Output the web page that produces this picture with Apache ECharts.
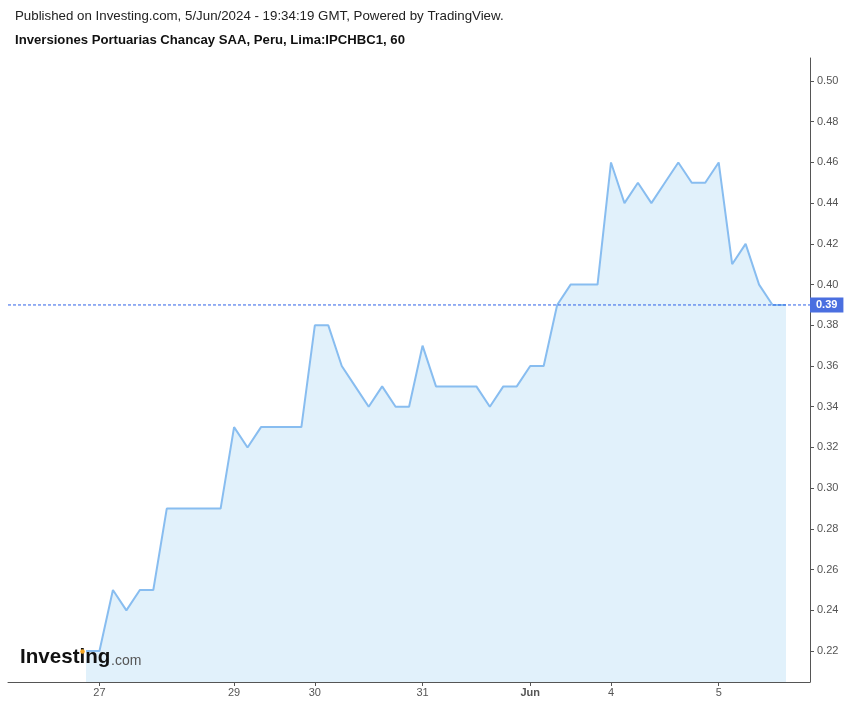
<!DOCTYPE html>
<html>
<head>
<meta charset="utf-8">
<script src="https://cdn.jsdelivr.net/npm/echarts@6/dist/echarts.min.js"></script>
<style>
html,body{margin:0;padding:0;background:#fff;}
#chart{width:850px;height:706px;}
</style>
</head>
<body>
<div id="chart"></div>
<script>
// Hourly closes, one point per bar (index 0 .. 52)
const values = [
  0.22, 0.22, 0.25, 0.24, 0.25, 0.25, 0.29, 0.29, 0.29, 0.29,
  0.29, 0.33, 0.32, 0.33, 0.33, 0.33, 0.33, 0.38, 0.38, 0.36,
  0.35, 0.34, 0.35, 0.34, 0.34, 0.37, 0.35, 0.35, 0.35, 0.35,
  0.34, 0.35, 0.35, 0.36, 0.36, 0.39, 0.40, 0.40, 0.40, 0.46,
  0.44, 0.45, 0.44, 0.45, 0.46, 0.45, 0.45, 0.46, 0.41, 0.42,
  0.40, 0.39, 0.39
];
// x-axis tick positions (bar index) and their labels
const tickIndex = [1, 11, 17, 25, 33, 39, 47];
const tickText  = ['27', '29', '30', '31', 'Jun', '4', '5'];
// y-axis tick labels
const yTicks = [0.22, 0.24, 0.26, 0.28, 0.30, 0.32, 0.34, 0.36, 0.38, 0.40, 0.42, 0.44, 0.46, 0.48, 0.50];
const lastValue = values[values.length - 1];

const X_MIN = -5.794, X_MAX = 53.783;
const seriesData = values.map((v, i) => [i, v]);
const lastLineData = [[X_MIN, lastValue], [X_MAX, lastValue]];

const chart = echarts.init(document.getElementById('chart'), null, {renderer: 'canvas'});
const FONT = '"Liberation Sans", Arial, sans-serif';

chart.setOption({
  animation: false,
  backgroundColor: '#ffffff',
  grid: {left: 8, right: 40, top: 58, bottom: 24, containLabel: false},
  graphic: [
    {type: 'text', left: 15, top: 10, style: {text: 'Published on Investing.com, 5/Jun/2024 - 19:34:19 GMT, Powered by TradingView.', font: '13.3px ' + FONT, fill: '#222'}},
    {type: 'text', left: 15, top: 34, style: {text: 'Inversiones Portuarias Chancay SAA, Peru, Lima:IPCHBC1, 60', font: 'bold 13.15px ' + FONT, fill: '#111'}},
    {type: 'text', left: 20, top: 647, z: 100, style: {text: 'Investing', font: 'bold 20.6px ' + FONT, fill: '#111'}},
    {type: 'text', left: 111, top: 654, z: 100, style: {text: '.com', font: '14px ' + FONT, fill: '#555'}},
    {type: 'circle', z: 101, shape: {cx: 82.5, cy: 651.5, r: 2.3}, style: {fill: '#f5a623'}}
  ],
  xAxis: {
    type: 'value',
    min: X_MIN,
    max: X_MAX,
    axisLine: {show: true, onZero: false, lineStyle: {color: '#555', width: 1}},
    axisTick: {show: true, length: 4, customValues: tickIndex, lineStyle: {color: '#555'}},
    axisLabel: {
      show: true,
      customValues: tickIndex,
      color: '#555',
      fontSize: 11,
      fontFamily: FONT,
      margin: 5,
      formatter: function (v) {
        const t = tickText[tickIndex.indexOf(Math.round(v))];
        return t === 'Jun' ? '{b|Jun}' : t;
      },
      rich: {b: {fontWeight: 'bold', color: '#555', fontSize: 11, fontFamily: FONT}}
    },
    splitLine: {show: false}
  },
  yAxis: {
    type: 'value',
    position: 'right',
    min: 0.2048,
    max: 0.5113,
    axisLine: {show: true, onZero: false, lineStyle: {color: '#555', width: 1}},
    axisTick: {show: true, length: 4, customValues: yTicks, lineStyle: {color: '#555'}},
    axisLabel: {
      show: true,
      customValues: yTicks,
      color: '#555',
      fontSize: 11,
      fontFamily: FONT,
      margin: 7,
      formatter: function (v) { return v.toFixed(2); }
    },
    splitLine: {show: false}
  },
  series: [{
    type: 'line',
    name: 'price',
    data: seriesData,
    showSymbol: false,
    symbol: 'none',
    color: '#88bdf0',
    lineStyle: {color: '#88bdf0', width: 2},
    areaStyle: {color: '#e1f1fb', opacity: 1, origin: 'start'},
    z: 2
  }, {
    type: 'line',
    name: 'last',
    data: lastLineData,
    showSymbol: false,
    symbol: 'none',
    silent: true,
    color: '#2f62e8',
    lineStyle: {color: '#2f62e8', width: 1, type: [3, 2]},
    z: 3,
    endLabel: {
      show: true,
      distance: 0,
      formatter: function () { return lastValue.toFixed(2); },
      backgroundColor: '#4a6fe0',
      color: '#fff',
      fontWeight: 'bold',
      fontSize: 11,
      fontFamily: FONT,
      padding: [2, 6, 2, 6]
    }
  }]
});
</script>
</body>
</html>
